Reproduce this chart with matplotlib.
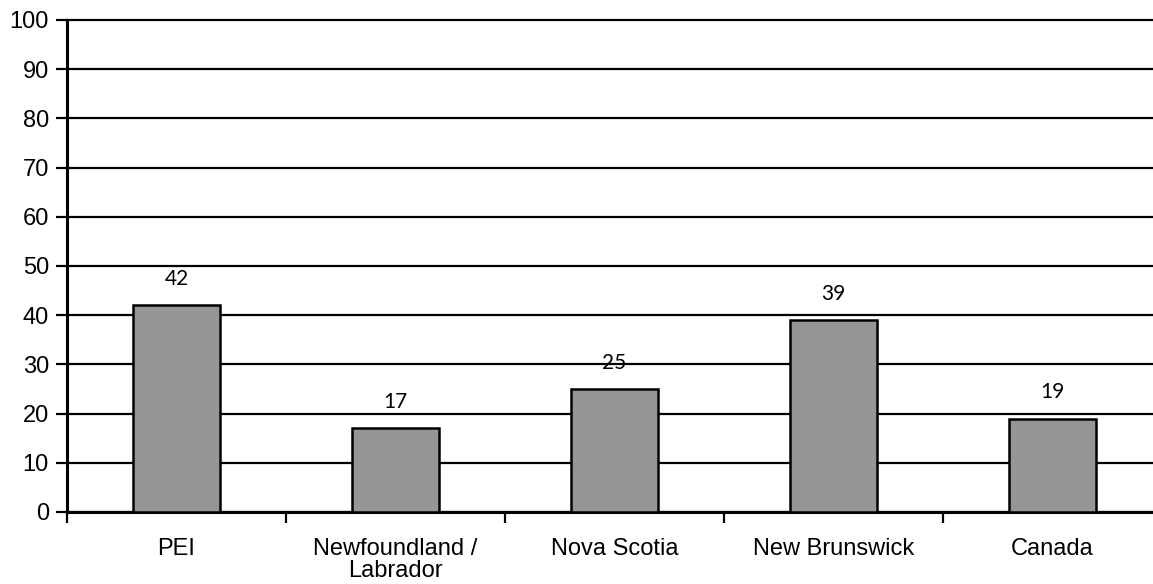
import matplotlib
matplotlib.use("Agg")
import matplotlib.pyplot as plt
import numpy as np

categories = ["PEI", "Newfoundland /\nLabrador", "Nova Scotia", "New Brunswick", "Canada"]
values = [42, 17, 25, 39, 19]
yticks = [0, 10, 20, 30, 40, 50, 60, 70, 80, 90, 100]

W, H = 1153, 584
fig = plt.figure(figsize=(W / 100, H / 100), dpi=100)
left, right, top, bottom = 67, 1162, 20, 512
ax = fig.add_axes([left / W, 1 - bottom / H, (right - left) / W, (bottom - top) / H])

x = np.arange(len(categories))
ax.bar(x, values, width=0.4, color="#969696", edgecolor="black", linewidth=1.8, zorder=3)

ax.set_xlim(-0.5, len(categories) - 0.5)
ax.set_ylim(0, 100)
ax.set_yticks(yticks)
ax.set_yticklabels([str(v) for v in yticks], fontfamily="Liberation Sans", fontsize=17)
ax.yaxis.grid(True, color="black", linewidth=1.6, zorder=1)
for gl in ax.get_ygridlines():
    gl.set_clip_on(False)
ax.set_axisbelow(True)

ax.set_xticks(x)
ax.set_xticklabels(categories, fontfamily="Liberation Sans", fontsize=17, linespacing=0.95)
ax.set_xticks(np.arange(len(categories) + 1) - 0.5, minor=True)
ax.tick_params(axis="x", which="major", length=0, pad=19)
ax.tick_params(axis="x", which="minor", length=8, width=1.6, direction="out")
ax.tick_params(axis="y", length=8, width=1.6, direction="out", pad=5)

for s in ["right", "top"]:
    ax.spines[s].set_visible(False)
for s in ["left", "bottom"]:
    ax.spines[s].set_linewidth(2.2)

for xi, v in zip(x, values):
    ax.annotate(str(v), (xi, v), xytext=(0, 19), textcoords="offset points",
                ha="center", va="center", fontfamily="Lato", fontsize=15)

fig.savefig("out.png", dpi=100)
